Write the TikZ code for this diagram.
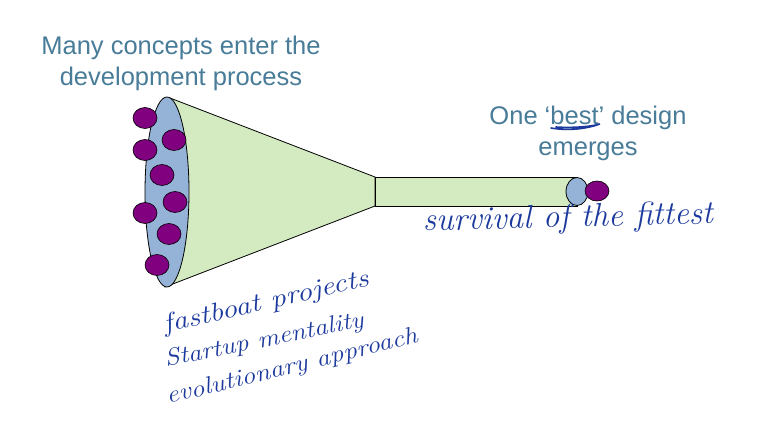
\documentclass[tikz,border=0pt]{standalone}
\usepackage{fontspec}
\usepackage{graphicx}
\setmainfont{Liberation Sans}
\newfontfamily\handfont{Latin Modern Roman}
\definecolor{captxt}{RGB}{72,124,152}
\definecolor{ink}{RGB}{28,58,158}
\definecolor{conegreen}{RGB}{212,235,194}
\definecolor{rimblue}{RGB}{149,179,215}
\definecolor{dotpurple}{RGB}{128,0,128}
\tikzset{
  caption/.style={text=captxt, font=\fontsize{25.5}{31}\selectfont, align=center, inner sep=0pt},
  hand/.style={text=ink, inner sep=0pt, anchor=base west},
  outline/.style={draw=black, line width=0.8pt},
  idea/.style={fill=dotpurple, draw=black, line width=0.6pt},
}
% italic note text: size, horizontal stretch, words
\newcommand{\handnote}[3]{\scalebox{#2}[1]{\handfont\itshape\fontsize{#1}{#1}\selectfont #3}}
\begin{document}
\begin{tikzpicture}[x=1pt,y=-1pt]
\useasboundingbox (0,0) rectangle (773,443);
\fill[white] (0,0) rectangle (773,443);

% captions
\node[caption] (many) at (181,63) {Many concepts enter the\\development process};
\node[caption] (best) at (588,133) {One ‘best’ design\\emerges};

% funnel cone
\coordinate (conetop) at (170,98);
\coordinate (conebot) at (165,287);
\coordinate (neckt) at (375,177);
\coordinate (neckb) at (375,206);
\filldraw[outline, fill=conegreen] (conetop) -- (neckt) -- (neckb) -- (conebot) -- cycle;

% narrow tube
\coordinate (tubet) at (577,177);
\coordinate (tubeb) at (577,206);
\filldraw[outline, fill=conegreen] (neckt) -- (tubet) -- (tubeb) -- (neckb) -- cycle;

% wide mouth and narrow outlet
\filldraw[outline, fill=rimblue] (167,192) ellipse [x radius=22, y radius=95];
\filldraw[outline, fill=rimblue] (577,191.5) ellipse [x radius=11, y radius=14];

% concepts entering
\foreach \px/\py in {145/118, 174/140, 145/150, 162/175, 175/202, 145/213, 169/234, 157/265}
  \filldraw[idea] (\px,\py) ellipse [x radius=12, y radius=10.5];
% the one that comes out
\filldraw[idea] (597,191) ellipse [x radius=12, y radius=10];

% handwritten notes
\draw[ink, line width=1.6pt, line cap=round] (551,128) .. controls (568,131) and (586,129) .. (600,124)
  .. controls (590,127) and (570,128) .. (556,127);
\node[hand, rotate=1.5] (surv) at (423,231) {\handnote{33}{1}{survival of the fittest}};
\node[hand, rotate=13] (fast) at (165,333) {\handnote{26}{1.19}{fastboat projects}};
\node[hand, rotate=11.5] (start) at (166,367) {\handnote{24}{1.13}{Startup mentality}};
\node[hand, rotate=13.8] (evo) at (168,404) {\handnote{24}{1.15}{evolutionary approach}};
\end{tikzpicture}
\end{document}
